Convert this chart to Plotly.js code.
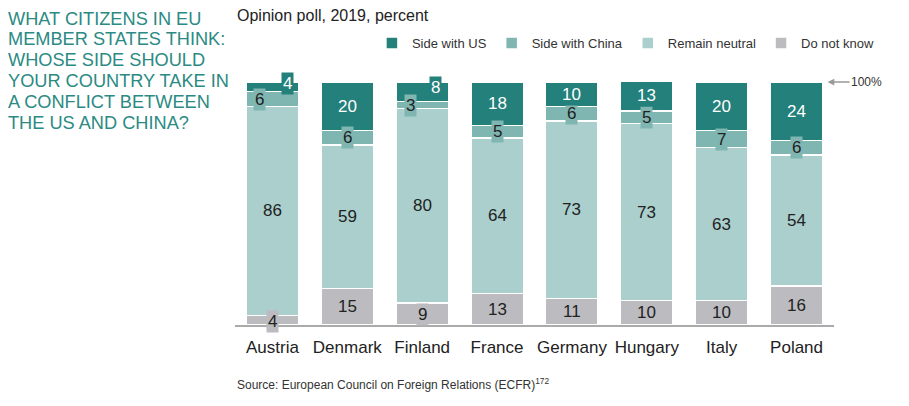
<!DOCTYPE html>
<html>
<head>
<meta charset="utf-8">
<script src="https://cdn.plot.ly/plotly-3.0.1.min.js"></script>
<style>html,body{margin:0;padding:0;background:#fff;}#chart{width:909px;height:406px;}</style>
</head>
<body>
<div id="chart"></div>
<script>
const countries = ["Austria","Denmark","Finland","France","Germany","Hungary","Italy","Poland"];
const doNotKnow = [4,15,9,13,11,10,10,16];
const remainNeutral = [86,59,80,64,73,73,63,54];
const sideWithChina = [6,6,3,5,6,5,7,6];
const sideWithUS = [4,20,8,18,10,13,20,24];
const seriesNames = ["Do not know","Remain neutral","Side with China","Side with US"];
const headlineLines = ["WHAT CITIZENS IN EU","MEMBER STATES THINK:","WHOSE SIDE SHOULD","YOUR COUNTRY TAKE IN","A CONFLICT BETWEEN","THE US AND CHINA?"];

// styles
const colors = ["#bcbcc0","#aacfcc","#7fb6b1","#23807b"];
const textColors = ["#222","#222","#222","#fff"];
// horizontal label nudges (px) for crowded small segments: [series][country]
const labelXShift = [
  [0,0,0,0,0,0,0,0],
  [0,0,0,0,0,0,0,0],
  [-13,0,-12,0,0,0,0,0],
  [15,0,13,0,0,0,0,0]
];
const labelYShift = [
  [-1,0,0,0,0,0,0,0],
  [0,0,0,0,0,0,0,0],
  [0,0,0,0,0,0,0,0],
  [3,0,4,0,0,0,0,0]
];

const series = [doNotKnow, remainNeutral, sideWithChina, sideWithUS];
const FONT = "Liberation Sans, Arial, Helvetica, sans-serif";

const traces = series.map((vals, i) => ({
  type: "bar",
  name: seriesNames[i],
  x: countries,
  y: vals,
  marker: {color: colors[i], line: {color: "#fff", width: 1.5}},
  hoverinfo: "none",
  cliponaxis: false
}));

const annotations = [];
const cum = countries.map(() => 0);
series.forEach((vals, i) => {
  vals.forEach((v, j) => {
    annotations.push({
      x: countries[j], y: cum[j] + v / 2, xref: "x", yref: "y",
      text: String(v), showarrow: false,
      font: {family: FONT, size: 17, color: textColors[i]},
      bgcolor: colors[i], borderpad: 1,
      xshift: labelXShift[i][j], yshift: labelYShift[i][j]
    });
    cum[j] += v;
  });
});

// 100% marker
annotations.push({
  x: countries[countries.length - 1], y: 100, xref: "x", yref: "y",
  xshift: 31, text: "100%", showarrow: true, ax: 39, ay: 0,
  arrowhead: 2, arrowsize: 0.9, arrowwidth: 1.5, arrowcolor: "#999",
  font: {family: FONT, size: 12, color: "#333"}
});

// left headline, one line each for tight leading
headlineLines.forEach((line, k) => {
  annotations.push({
    xref: "paper", yref: "paper", x: -0.383, y: 1.31, xanchor: "left", yanchor: "top",
    yshift: -20.8 * k, align: "left", showarrow: false, text: line,
    font: {family: FONT, size: 18.2, color: "#2b8a83"}
  });
});
// subtitle
annotations.push({
  xref: "paper", yref: "paper", x: 0.0, y: 1.315, xanchor: "left", yanchor: "top",
  showarrow: false, text: "Opinion poll, 2019, percent",
  font: {family: FONT, size: 16, color: "#222"}
});
// source
annotations.push({
  xref: "paper", yref: "paper", x: 0.0, y: -0.2, xanchor: "left", yanchor: "top",
  showarrow: false, text: "Source: European Council on Foreign Relations (ECFR)<sup>172</sup>",
  font: {family: FONT, size: 12, color: "#333"}
});

const layout = {
  width: 909, height: 406,
  margin: {l: 235, r: 75, t: 82, b: 81, autoexpand: false},
  paper_bgcolor: "#fff", plot_bgcolor: "#fff",
  barmode: "stack", bargap: 0.3,
  showlegend: true,
  legend: {
    orientation: "h", traceorder: "reversed",
    x: 1.075, xanchor: "right", y: 1.16, yanchor: "middle",
    font: {family: FONT, size: 13, color: "#333"},
    itemwidth: 30, itemclick: false, itemdoubleclick: false
  },
  xaxis: {
    type: "category", categoryarray: countries, range: [-0.5, countries.length - 0.5],
    showline: true, linecolor: "#aaa", linewidth: 2,
    ticks: "", showgrid: false, zeroline: false, tickangle: 0,
    tickfont: {family: FONT, size: 17, color: "#222"},
    ticklabelstandoff: 6, fixedrange: true, automargin: false
  },
  yaxis: {range: [0, 100], visible: false, showgrid: false, zeroline: false, fixedrange: true, automargin: false},
  annotations: annotations,
  font: {family: FONT}
};

Plotly.newPlot("chart", traces, layout, {displayModeBar: false, staticPlot: true});
</script>
</body>
</html>
